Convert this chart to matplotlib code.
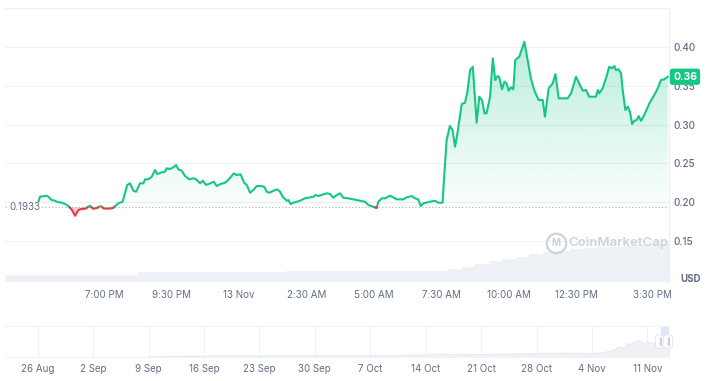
import numpy as np
import matplotlib
matplotlib.use("Agg")
import matplotlib.pyplot as plt
import matplotlib.transforms as mtransforms
from matplotlib.path import Path
from matplotlib.lines import Line2D

plt.rcParams['font.family'] = ['Inter', 'DejaVu Sans']

# ==========================================================
# DATA
# ==========================================================

# hours since 12 Nov 00:00
price_time = [
    16.57, 16.63, 16.88, 16.94, 17.06, 17.19, 17.25, 17.43, 17.56, 17.68,
    17.80, 17.93, 18.05, 18.17, 18.30, 18.48, 18.60, 18.73, 18.88, 19.00,
    19.22, 19.34, 19.53, 19.69, 19.86, 19.96, 20.09, 20.19, 20.33, 20.46,
    20.52, 20.64, 20.77, 20.89, 20.97, 21.10, 21.26, 21.32, 21.44, 21.57,
    21.67, 21.75, 21.88, 22.00, 22.16, 22.31, 22.41, 22.56, 22.66, 22.78,
    22.93, 23.07, 23.17, 23.32, 23.48, 23.60, 23.81, 23.91, 24.06, 24.19,
    24.29, 24.41, 24.53, 24.66, 24.80, 24.93, 25.03, 25.12, 25.27, 25.42,
    25.52, 25.62, 25.77, 25.83, 25.91, 26.01, 26.14, 26.26, 26.44, 26.75,
    26.85, 26.94, 27.25, 27.37, 27.49, 27.62, 27.74, 27.86, 28.05, 28.23,
    28.48, 28.67, 28.79, 28.97, 29.10, 29.16, 29.29, 29.41, 29.59, 29.71,
    29.84, 30.09, 30.21, 30.40, 30.52, 30.64, 30.73, 30.83, 31.07, 31.26,
    31.38, 31.54, 31.59, 31.69, 31.81, 31.91, 32.00, 32.09, 32.25, 32.37,
    32.46, 32.56, 32.66, 32.80, 32.90, 33.00, 33.09, 33.17, 33.30, 33.40,
    33.49, 33.58, 33.64, 33.74, 33.83, 33.91, 33.99, 34.07, 34.16, 34.23,
    34.38, 34.57, 34.69, 34.81, 34.94, 35.10, 35.25, 35.33, 35.47, 35.62,
    35.72, 35.84, 36.05, 36.17, 36.30, 36.48, 36.63, 36.73, 36.85, 36.97,
    37.12, 37.22, 37.29, 37.34, 37.47, 37.61, 37.71, 37.81, 37.90, 37.96,
    38.06, 38.15, 38.21, 38.31, 38.40, 38.48, 38.56, 38.64, 38.73, 38.80,
    38.89, 39.01, 39.20, 39.38, 39.51, 39.63, 39.75, 39.88,
]

price = [
    0.2006, 0.2071, 0.2084, 0.2071, 0.2028, 0.2019, 0.2006, 0.1994, 0.1977, 0.1951,
    0.1908, 0.1826, 0.1899, 0.1915, 0.1915, 0.1955, 0.1915, 0.1925, 0.1951, 0.1918,
    0.1918, 0.1928, 0.1986, 0.2006, 0.2222, 0.2244, 0.2148, 0.2135, 0.2244, 0.2244,
    0.2295, 0.2295, 0.2329, 0.2415, 0.2363, 0.2380, 0.2393, 0.2437, 0.2428, 0.2450,
    0.2479, 0.2424, 0.2406, 0.2338, 0.2295, 0.2308, 0.2295, 0.2244, 0.2277, 0.2222,
    0.2244, 0.2264, 0.2209, 0.2235, 0.2251, 0.2286, 0.2372, 0.2351, 0.2360, 0.2251,
    0.2222, 0.2122, 0.2157, 0.2209, 0.2209, 0.2200, 0.2135, 0.2122, 0.2148, 0.2166,
    0.2135, 0.2071, 0.2019, 0.2028, 0.1977, 0.1994, 0.2006, 0.2019, 0.2050, 0.2071,
    0.2093, 0.2080, 0.2115, 0.2106, 0.2058, 0.2093, 0.2115, 0.2058, 0.2050, 0.2037,
    0.2019, 0.2006, 0.1964, 0.1942, 0.1926, 0.2006, 0.2050, 0.2050, 0.2084, 0.2063,
    0.2037, 0.2037, 0.2063, 0.2080, 0.2050, 0.2037, 0.1951, 0.1986, 0.2006, 0.2019,
    0.1994, 0.1994, 0.2286, 0.2802, 0.2982, 0.2930, 0.2715, 0.2888, 0.3265, 0.3282,
    0.3424, 0.3704, 0.3746, 0.3024, 0.3360, 0.3317, 0.3146, 0.3146, 0.3360, 0.3854,
    0.3575, 0.3626, 0.3610, 0.3455, 0.3553, 0.3532, 0.3437, 0.3481, 0.3455, 0.3832,
    0.3875, 0.4068, 0.3832, 0.3597, 0.3437, 0.3317, 0.3317, 0.3102, 0.3468, 0.3532,
    0.3652, 0.3339, 0.3339, 0.3339, 0.3403, 0.3617, 0.3510, 0.3437, 0.3446, 0.3360,
    0.3360, 0.3360, 0.3446, 0.3403, 0.3468, 0.3617, 0.3746, 0.3726, 0.3755, 0.3704,
    0.3713, 0.3661, 0.3446, 0.3188, 0.3231, 0.3166, 0.3008, 0.3050, 0.3059, 0.3111,
    0.3050, 0.3124, 0.3274, 0.3381, 0.3468, 0.3575, 0.3584, 0.3617,
]

BASE_PRICE = 0.1933

vol_time = [
    15.5, 16.0, 16.5, 17.0, 17.5, 18.0, 18.5, 19.0, 19.5, 20.0,
    20.5, 21.0, 21.5, 22.0, 22.5, 23.0, 23.5, 24.0, 24.5, 25.0,
    25.5, 26.0, 26.5, 27.0, 27.5, 28.0, 28.5, 29.0, 29.5, 30.0,
    30.5, 31.0, 31.5, 32.0, 32.5, 33.0, 33.5, 34.0, 34.5, 35.0,
    35.5, 36.0, 36.5, 37.0, 37.5, 38.0, 38.5, 39.0, 39.5, 40.0,
]
volume_m = [
    7.0, 7.0, 7.0, 7.0, 7.0, 7.0, 7.0, 7.0, 7.0, 7.5,
    10.0, 10.0, 10.0, 10.0, 10.0, 10.5, 10.5, 10.5, 10.5, 10.5,
    10.5, 11.0, 11.0, 11.0, 11.0, 11.0, 11.0, 11.0, 11.0, 11.0,
    11.0, 11.0, 11.5, 13.0, 15.5, 18.0, 21.0, 23.5, 25.5, 28.0,
    30.0, 31.5, 33.0, 34.0, 35.0, 35.5, 36.5, 37.5, 38.0, 38.5,
]

x_ticks = [19.0, 21.5, 24.0, 26.5, 29.0, 31.5, 34.0, 36.5, 39.5]
x_labels = ["7:00 PM", "9:30 PM", "13 Nov", "2:30 AM", "5:00 AM",
            "7:30 AM", "10:00 AM", "12:30 PM", "3:30 PM"]
y_ticks = [0.15, 0.20, 0.25, 0.30, 0.35, 0.40]

# navigator: days since 26 Aug
nav_day = [14, 17, 21, 24, 28, 31, 35, 38, 42, 45, 49, 50.5, 52, 54, 56,
           58, 60, 62, 63, 65, 66, 68, 70, 71, 72, 72.8, 73.5, 74, 74.4,
           74.9, 75.3, 75.6, 76.0, 76.3, 76.6, 77.0, 77.3, 77.6, 78.0,
           78.3, 78.6, 79.0, 79.3, 79.68]
nav_price = [0.02, 0.025, 0.03, 0.03, 0.03, 0.035, 0.04, 0.04, 0.04, 0.045,
             0.05, 0.07, 0.06, 0.065, 0.06, 0.07, 0.07, 0.075, 0.08, 0.085,
             0.09, 0.085, 0.08, 0.09, 0.12, 0.16, 0.22, 0.19, 0.28, 0.26,
             0.33, 0.32, 0.34, 0.29, 0.30, 0.31, 0.28, 0.29, 0.27, 0.31,
             0.30, 0.33, 0.30, 0.32]
nav_ticks = [0, 7, 14, 21, 28, 35, 42, 49, 56, 63, 70, 77]
nav_labels = ["26 Aug", "2 Sep", "9 Sep", "16 Sep", "23 Sep", "30 Sep",
              "7 Oct", "14 Oct", "21 Oct", "28 Oct", "4 Nov", "11 Nov"]

GREEN = "#16c784"
RED = "#ea3943"
GREY_TXT = "#616e85"
GRID = "#eff1f4"

# ==========================================================
# FIGURE
# ==========================================================

W, H = 716, 381
fig = plt.figure(figsize=(W / 100, H / 100), dpi=100)
fig.patch.set_facecolor("white")

ax = fig.add_axes([5 / W, 99 / H, 664 / W, 274 / H])
ax2 = ax.twinx()
ax.set_zorder(ax2.get_zorder() + 1)
ax.patch.set_visible(False)

# volume
ax2.bar(vol_time, volume_m, width=0.5, color="#eef1f5", linewidth=0)
ax2.set_ylim(0, 274)
ax2.set_yticks([])
for s in ax2.spines.values():
    s.set_visible(False)

# split line at baseline crossings
t = np.array(price_time)
p = np.array(price)
tt, pp = [t[0]], [p[0]]
for i in range(1, len(t)):
    if (p[i - 1] - BASE_PRICE) * (p[i] - BASE_PRICE) < 0:
        f = (BASE_PRICE - p[i - 1]) / (p[i] - p[i - 1])
        tt.append(t[i - 1] + f * (t[i] - t[i - 1]))
        pp.append(BASE_PRICE)
    tt.append(t[i])
    pp.append(p[i])
tt = np.array(tt)
pp = np.array(pp)

up = np.where(pp >= BASE_PRICE, pp, np.nan)
dn = np.where(pp <= BASE_PRICE, pp, np.nan)

# gradient fill above baseline
poly = ax.fill_between(tt, pp, BASE_PRICE, where=pp >= BASE_PRICE,
                       facecolor="none", edgecolor="none")
grad = np.zeros((256, 1, 4))
grad[:, 0, :3] = matplotlib.colors.to_rgb(GREEN)
grad[:, 0, 3] = np.linspace(0.30, 0.015, 256)
im = ax.imshow(grad, extent=[tt[0], tt[-1], BASE_PRICE, pp.max()],
               aspect="auto", origin="upper", zorder=1)
im.set_clip_path(Path.make_compound_path(*poly.get_paths()),
                 transform=ax.transData)

ax.fill_between(tt, pp, BASE_PRICE, where=pp <= BASE_PRICE,
                facecolor=RED, alpha=0.22, edgecolor="none", zorder=1)

ax.plot(tt, up, color=GREEN, lw=1.5, zorder=3, solid_joinstyle="round")
ax.plot(tt, dn, color=RED, lw=1.5, zorder=3, solid_joinstyle="round")

ax.axhline(BASE_PRICE, color="#a8b0bd", lw=0.8, ls=(0, (1, 2)), zorder=2)

ax.set_xlim(15.333, 39.926)
ax.set_ylim(0.0972, 0.4503)

ax.set_xticks(x_ticks)
ax.set_xticklabels(x_labels)
ax.set_yticks(y_ticks)
ax.set_yticklabels([f"{v:.2f}" for v in y_ticks])
ax.yaxis.tick_right()
ax.tick_params(axis="x", length=0, pad=6, labelsize=7, labelcolor=GREY_TXT)
ax.tick_params(axis="y", length=0, pad=3.5, labelsize=7.2, labelcolor=GREY_TXT)
for lab in ax.get_yticklabels():
    lab.set_fontweight("medium")
# last time label sits inside the plot edge
last = ax.get_xticklabels()[-1]
last.set_transform(last.get_transform() +
                   mtransforms.ScaledTranslation(-5 / 100, 0, fig.dpi_scale_trans))
ax.yaxis.grid(True, color=GRID, lw=0.9)
ax.set_axisbelow(True)

for side in ["left", "bottom"]:
    ax.spines[side].set_visible(False)
for side in ["top", "right"]:
    ax.spines[side].set_color("#eceff3")
    ax.spines[side].set_linewidth(0.9)

# baseline label
ax.text(0.006, BASE_PRICE, f"{BASE_PRICE:.4f}", transform=ax.get_yaxis_transform(),
        ha="left", va="center", fontsize=7, color=GREY_TXT, zorder=4,
        bbox=dict(facecolor="white", edgecolor="none", pad=0.5))

# last price badge
ax.text(1 + 4 / 664, price[-1], f"{price[-1]:.2f}", transform=ax.get_yaxis_transform(),
        ha="left", va="center", fontsize=7.5, fontweight="bold", color="white",
        zorder=6, clip_on=False,
        bbox=dict(boxstyle="round,pad=0.3,rounding_size=0.25",
                  facecolor=GREEN, edgecolor="none"))

fig.text(691 / W, 1 - 279 / H, "USD", ha="center", va="center",
         fontsize=7, fontweight="bold", color=GREY_TXT)

# watermark
wm = "#cdd3dd"
fig.add_artist(Line2D([556 / W], [1 - 243 / H], marker="o", ms=14, mfc="none",
                      mec=wm, mew=1.6, transform=fig.transFigure))
fig.text(556 / W, 1 - 243 / H, "M", ha="center", va="center", fontsize=7,
         fontweight="bold", color=wm)
fig.text(568 / W, 1 - 243 / H, "CoinMarketCap", ha="left", va="center",
         fontsize=9.5, fontweight="semibold", color=wm)

# ==========================================================
# NAVIGATOR
# ==========================================================

axn = fig.add_axes([5 / W, 24 / H, 664 / W, 31 / H])
axn.fill_between(nav_day, nav_price, 0, facecolor="#eff1f5",
                 edgecolor="#e6e9ef", lw=0.6)
axn.axvspan(78.67, 79.72, color="#dfe6f6", lw=0, zorder=0)
axn.set_xlim(-4.12, 79.72)
axn.set_ylim(0, 0.62)
axn.set_xticks(nav_ticks)
axn.set_xticklabels(nav_labels)
axn.set_yticks([])
axn.tick_params(axis="x", length=0, pad=5, labelsize=7, labelcolor=GREY_TXT)
axn.xaxis.grid(True, color=GRID, lw=0.8)
axn.set_axisbelow(True)
for side in ["left", "right"]:
    axn.spines[side].set_visible(False)
for side in ["top", "bottom"]:
    axn.spines[side].set_color("#f0f2f5")
    axn.spines[side].set_linewidth(0.8)

for d in [78.59, 79.6]:
    axn.text(d, 0.31, "||", ha="center", va="center", fontsize=5,
             color="#8a94a6", zorder=5, clip_on=False,
             bbox=dict(boxstyle="round,pad=0.35,rounding_size=0.5",
                       facecolor="white", edgecolor="#dde2ea", lw=0.6))

fig.savefig("out.png", dpi=100, facecolor="white")
